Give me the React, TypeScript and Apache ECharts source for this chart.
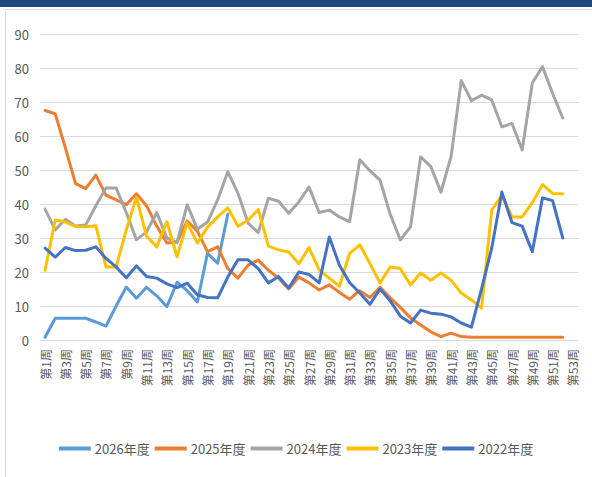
import React, { useEffect, useRef } from "react";
import * as echarts from "echarts";

const weeks: string[] = Array.from({ length: 53 }, (_, i) => `第${i + 1}周`);

const s2026: number[] = [0.8, 6.4, 6.4, 6.4, 6.4, 5.3, 4.1, 10, 15.6, 12.3, 15.5, 13, 9.8, 17, 14.5, 11.2, 25.5, 22.6, 37];

const s2025: number[] = [67.5, 66.5, 56.5, 46, 44.5, 48.5, 42.6, 41.2, 39.8, 43, 39.5, 33.5, 28.5, 28.8, 35, 32, 26, 27.4, 21, 18.2, 22, 23.5, 20.5, 18.2, 15, 18.5, 16.8, 14.7, 16.2, 14, 12, 14.5, 12.5, 15.5, 12.4, 9.6, 6.5, 4.4, 2.4, 1, 2, 1, 0.8, 0.8, 0.8, 0.8, 0.8, 0.8, 0.8, 0.8, 0.8, 0.8];

const s2024: number[] = [38.5, 32.4, 35.5, 33.5, 33.8, 39.5, 44.7, 44.7, 37.5, 29.5, 31.8, 37.5, 30, 28.7, 39.8, 32.6, 34.7, 41.2, 49.5, 43.2, 34.4, 31.6, 41.7, 40.8, 37.3, 40.6, 45, 37.5, 38.2, 36.2, 34.8, 53, 49.8, 47, 37, 29.4, 33.3, 53.9, 51, 43.5, 54, 76.3, 70.4, 72, 70.6, 62.7, 63.7, 55.9, 75.6, 80.4, 72.5, 65.3];

const s2023: number[] = [20.5, 35.3, 34.7, 33.4, 33.3, 33.6, 21.5, 21.5, 32.4, 42, 30.5, 27.4, 34.8, 24.5, 34.5, 28.5, 33.2, 36.2, 38.9, 33.5, 35.2, 38.4, 27.6, 26.5, 25.9, 22.4, 27.2, 20.6, 18.2, 15.8, 25.5, 28, 22.5, 16.8, 21.5, 21, 16.2, 19.7, 17.6, 19.7, 17.6, 13.8, 11.8, 9.4, 38.2, 42.5, 36.2, 36.2, 40.4, 45.7, 43.1, 43];

const s2022: number[] = [27, 24.4, 27.2, 26.3, 26.4, 27.4, 24, 21.5, 18.3, 21.8, 18.7, 18.2, 16.5, 15.4, 16.7, 13.3, 12.5, 12.4, 18.5, 23.6, 23.6, 21, 16.8, 18.7, 15.3, 20, 19.3, 16.8, 30.3, 22, 16.9, 13.8, 10.5, 15, 11.5, 7, 5, 8.8, 7.9, 7.6, 6.8, 5, 3.8, 15, 27, 43.5, 34.5, 33.5, 26, 41.8, 41, 30];

const seriesNames: string[] = ["2026年度", "2025年度", "2024年度", "2023年度", "2022年度"];
const seriesColors: string[] = ["#5B9BD5", "#ED7D31", "#A5A5A5", "#FFC000", "#4472C4"];
const yTicks = { min: 0, max: 90, interval: 10 };

const FONT = "'Liberation Sans Narrow', 'Noto Sans CJK SC', sans-serif";
const CJK = "'Noto Sans CJK SC', sans-serif";

export default function App() {
  const ref = useRef<HTMLDivElement>(null);
  useEffect(() => {
    document.body.style.margin = "0";
    if (!ref.current) return;
    const chart = echarts.init(ref.current, null, { renderer: "svg" });
    const allData = [s2026, s2025, s2024, s2023, s2022];
    chart.setOption({
      animation: false,
      backgroundColor: "#ffffff",
      textStyle: { fontFamily: FONT },
      graphic: [
        { type: "rect", shape: { x: 0, y: 0, width: 592, height: 7 }, style: { fill: "#1F497D" }, silent: true },
        { type: "rect", shape: { x: 5.5, y: 9.5, width: 600, height: 500 }, style: { fill: "none", stroke: "#D9D9D9", lineWidth: 1 }, silent: true },
      ],
      grid: { left: 40, right: 14, top: 34, bottom: 137, containLabel: false },
      legend: {
        bottom: 17,
        left: "center",
        icon: "rect",
        itemWidth: 32,
        itemHeight: 4,
        itemGap: 5,
        textStyle: { color: "#595959", fontSize: 13, fontFamily: FONT, padding: [0, 0, 0, -1] },
        data: seriesNames,
      },
      xAxis: {
        type: "category",
        data: weeks,
        boundaryGap: true,
        axisLine: { lineStyle: { color: "#D9D9D9", width: 1 } },
        axisTick: { show: false },
        axisLabel: { interval: 1, rotate: 90, color: "#595959", fontSize: 12, margin: 9, fontFamily: CJK },
      },
      yAxis: {
        type: "value",
        min: yTicks.min,
        max: yTicks.max,
        interval: yTicks.interval,
        axisLine: { show: false },
        axisTick: { show: false },
        axisLabel: { color: "#595959", fontSize: 13, margin: 11, fontFamily: FONT },
        splitLine: { lineStyle: { color: "#D9D9D9", width: 1 } },
      },
      series: seriesNames.map((name, i) => ({
        name,
        type: "line",
        data: allData[i],
        symbol: "none",
        lineStyle: { width: 3, color: seriesColors[i], join: "round", cap: "round" },
        itemStyle: { color: seriesColors[i] },
      })),
    });
    return () => chart.dispose();
  }, []);
  return <div ref={ref} style={{ width: 592, height: 477 }} />;
}
